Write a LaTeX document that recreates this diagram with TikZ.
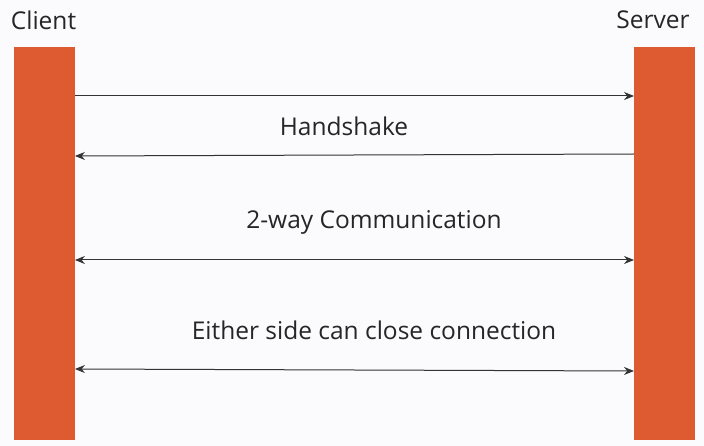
\documentclass[tikz,border=0pt]{standalone}
\usepackage{fontspec}
\setmainfont{Open Sans}
\usetikzlibrary{arrows.meta}
\definecolor{barorange}{HTML}{DE5B31}
\definecolor{bgcol}{HTML}{FBFBFD}
\definecolor{linecol}{HTML}{333333}
\tikzset{
  lifebar/.style={fill=barorange, draw=none, minimum width=61pt, minimum height=393pt, inner sep=0pt, anchor=north west},
  lbl/.style={font=\fontsize{24.5}{29}\selectfont, text=black!85, inner sep=0pt},
  msg/.style={draw=linecol, line width=1pt, -{Stealth[length=10pt,width=8pt]}},
  msgboth/.style={draw=linecol, line width=1pt, {Stealth[length=10pt,width=8pt]}-{Stealth[length=10pt,width=8pt]}}
}
\begin{document}
\begin{tikzpicture}[x=1pt,y=-1pt]
\fill[bgcol] (0,0) rectangle (704,446);
\useasboundingbox (0,0) rectangle (704,446);
\node[lifebar] (client) at (13.5,47) {};
\node[lifebar] (server) at (634,47) {};
\node[lbl] (clientlbl) at (43.5,20) {Client};
\node[lbl] (serverlbl) at (653,20) {Server};
\node[lbl] (hs) at (344,126) {Handshake};
\node[lbl] (tw) at (374,222) {2-way Communication};
\node[lbl] (cl) at (374,330) {Either side can close connection};
\coordinate (a1s) at (client.east |- 0,96);
\coordinate (a1e) at (server.west |- 0,96);
\coordinate (a2s) at (server.west |- 0,154);
\coordinate (a2e) at (client.east |- 0,156);
\coordinate (a3s) at (client.east |- 0,260);
\coordinate (a3e) at (server.west |- 0,260);
\coordinate (a4s) at (client.east |- 0,369);
\coordinate (a4e) at (server.west |- 0,371);
\draw[msg] (a1s) -- (a1e);
\draw[msg] (a2s) -- (a2e);
\draw[msgboth] (a3s) -- (a3e);
\draw[msgboth] (a4s) -- (a4e);
\end{tikzpicture}
\end{document}
